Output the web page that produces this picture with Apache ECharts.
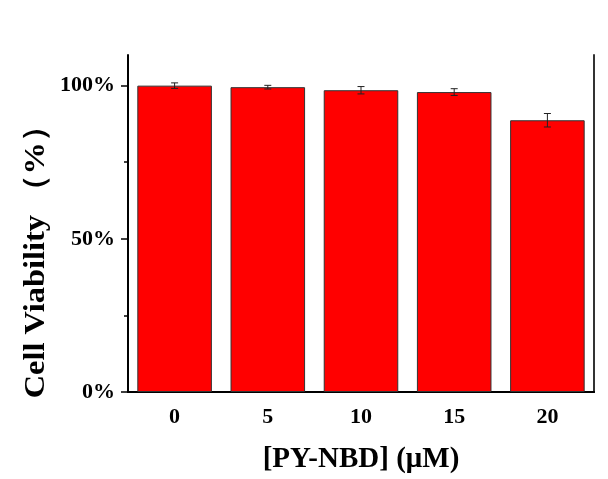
<!DOCTYPE html>
<html>
<head>
<meta charset="utf-8">
<script src="https://cdn.jsdelivr.net/npm/echarts@6/dist/echarts.min.js"></script>
<style>html,body{margin:0;padding:0;background:#fff}#c{width:608px;height:479px}</style>
</head>
<body>
<div id="c"></div>
<script>
const categories = ['0', '5', '10', '15', '20'];
const viability = [100, 99.5, 98.5, 97.9, 88.7];
const errors = [0.9, 0.6, 1.2, 1.1, 2.2];
const yMajorTicks = [0, 50, 100];
const yMinorTicks = [25, 75];
const xTitle = '[PY-NBD] (μM)';
const yTitle = 'Cell Viability （%）';

const FONT = "'Liberation Serif', 'Times New Roman', serif";
const chart = echarts.init(document.getElementById('c'), null, {renderer: 'canvas'});

const errData = viability.map((v, i) => [i, v - errors[i], v + errors[i]]);

chart.setOption({
  animation: false,
  backgroundColor: '#fff',
  grid: {left: 128, right: 14, top: 55, bottom: 79},
  graphic: [
    {
      type: 'text', x: 36, y: 254, rotation: Math.PI / 2, scaleX: 1.08, scaleY: 1,
      style: {text: yTitle, fill: '#000', font: "bold 30px 'Liberation Serif', 'Times New Roman', serif",
              textAlign: 'center', textVerticalAlign: 'middle'}
    }
  ],
  xAxis: [
    {
      type: 'category', data: categories, position: 'bottom',
      name: xTitle, nameLocation: 'middle', nameGap: 53,
      nameTextStyle: {fontFamily: FONT, fontWeight: 'bold', fontSize: 29, color: '#000'},
      axisLine: {lineStyle: {color: '#000', width: 2}},
      axisTick: {alignWithLabel: true, length: 7, inside: false, lineStyle: {color: '#000', width: 1.5}},
      axisLabel: {fontFamily: FONT, fontWeight: 'bold', fontSize: 22, color: '#000', margin: 14},
      splitLine: {show: false}
    },
    {
      type: 'category', data: categories, position: 'bottom', gridIndex: 0,
      axisLine: {show: false},
      axisTick: {length: 4, lineStyle: {color: '#000', width: 1.5}},
      axisLabel: {show: false}, splitLine: {show: false}
    },
    {
      type: 'category', data: categories, position: 'top',
      axisLine: {lineStyle: {color: '#000', width: 2}},
      axisTick: {show: false}, axisLabel: {show: false}, splitLine: {show: false}
    }
  ],
  yAxis: [
    {
      type: 'value', min: 0, max: 110, position: 'left',
      axisLine: {show: true, lineStyle: {color: '#000', width: 2}},
      axisTick: {show: true, length: 7, customValues: yMajorTicks, lineStyle: {color: '#000', width: 1.5}},
      axisLabel: {customValues: yMajorTicks, formatter: v => v + '%', fontFamily: FONT, fontWeight: 'bold', fontSize: 22, color: '#000', margin: 13},
      splitLine: {show: false}
    },
    {
      type: 'value', min: 0, max: 110, position: 'left',
      axisLine: {show: false},
      axisTick: {show: true, length: 4, customValues: yMinorTicks, lineStyle: {color: '#000', width: 1.5}},
      axisLabel: {show: false}, splitLine: {show: false}
    },
    {
      type: 'value', min: 0, max: 110, position: 'right',
      axisLine: {show: true, lineStyle: {color: '#333', width: 2}},
      axisTick: {show: false}, axisLabel: {show: false}, splitLine: {show: false}
    }
  ],
  series: [
    {
      type: 'bar', data: viability, barWidth: '80%',
      itemStyle: {color: '#ff0000', borderColor: '#333', borderWidth: 1}
    },
    {
      type: 'custom', data: errData, z: 10,
      renderItem: function (params, api) {
        const i = api.value(0);
        const lo = api.coord([i, api.value(1)]);
        const hi = api.coord([i, api.value(2)]);
        const hw = 3.5;
        const style = {stroke: '#222', lineWidth: 1};
        return {
          type: 'group',
          children: [
            {type: 'line', shape: {x1: hi[0], y1: hi[1], x2: lo[0], y2: lo[1]}, style},
            {type: 'line', shape: {x1: hi[0] - hw, y1: hi[1], x2: hi[0] + hw, y2: hi[1]}, style},
            {type: 'line', shape: {x1: lo[0] - hw, y1: lo[1], x2: lo[0] + hw, y2: lo[1]}, style}
          ]
        };
      }
    }
  ]
});
</script>
</body>
</html>
